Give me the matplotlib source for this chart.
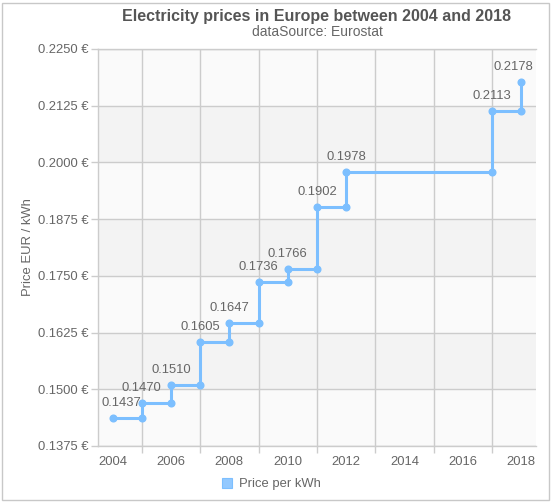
import numpy as np
import matplotlib
matplotlib.use("Agg")
import matplotlib.pyplot as plt
from matplotlib.patches import Patch, Rectangle
from matplotlib.ticker import FixedLocator, FuncFormatter

# data
years = [2004, 2005, 2006, 2007, 2008, 2009, 2010, 2011, 2012, 2017, 2018]
prices = [0.1437, 0.1470, 0.1510, 0.1605, 0.1647, 0.1736, 0.1766, 0.1902,
          0.1978, 0.2113, 0.2178]
series_name = "Price per kWh"
title = "Electricity prices in Europe between 2004 and 2018"
subtitle = "dataSource: Eurostat"
y_title = "Price EUR / kWh"

LINE = "#7cbfff"
TXT = "#666666"
GRID = "#cccccc"
FS = 9.4

plt.rcParams["font.family"] = ["Liberation Sans", "DejaVu Sans"]

W, H = 553, 503
fig = plt.figure(figsize=(W / 100, H / 100), dpi=100)
ax = fig.add_axes([98 / W, 1 - 446 / H, 438 / W, 397 / H])

ymin, ymax, ystep = 0.1375, 0.2250, 0.0125
yt = np.arange(ymin, ymax + ystep / 2, ystep)
ax.set_facecolor("#fafafa")
for i in range(len(yt) - 1):
    if i % 2 == 1:
        ax.axhspan(yt[i], yt[i + 1], color="#f3f3f3", lw=0, zorder=0)

ax.set_xlim(years[0] - 0.5, years[-1] + 0.5)
ax.set_ylim(ymin, ymax)

# step line with markers on every corner
ax.step(years, prices, where="post", color=LINE, lw=2.2, zorder=3,
        solid_joinstyle="miter")
ax.plot(years, prices, "o", color=LINE, ms=4.8, zorder=4)
ax.plot(years[1:], prices[:-1], "o", color=LINE, ms=4.8, zorder=4)

# value labels
lbls = []
for x, v in zip(years, prices):
    t = ax.annotate(f"{v:.4f}", (x, v), xytext=(0, 15),
                    textcoords="offset pixels", ha="center", va="center",
                    fontsize=FS, color=TXT, zorder=5)
    lbls.append(t)

# axes / ticks
ax.xaxis.set_major_locator(FixedLocator(range(2004, 2019, 2)))
ax.xaxis.set_minor_locator(FixedLocator(range(2005, 2019, 2)))
ax.yaxis.set_major_locator(FixedLocator(yt))
ax.yaxis.set_major_formatter(FuncFormatter(lambda v, p: f"{v:.4f} €"))
ax.tick_params(axis="x", which="major", length=0, pad=7, labelsize=FS,
               labelcolor=TXT)
ax.tick_params(axis="x", which="minor", length=5, width=1, color=GRID)
ax.tick_params(axis="y", length=5, width=1, color=GRID, pad=2,
               labelsize=FS, labelcolor=TXT)
ax.grid(True, axis="x", which="minor", color=GRID, lw=1, zorder=1)
ax.grid(True, axis="y", which="major", color=GRID, lw=1, zorder=1)
ax.set_axisbelow(True)
ax.spines["right"].set_visible(False)
for s in ["left", "bottom", "top"]:
    ax.spines[s].set_color(GRID)
    ax.spines[s].set_linewidth(1)

ax.set_ylabel(y_title, fontsize=FS, color=TXT)
ax.yaxis.set_label_coords(-64 / 438, 0.5)

fig.text(317 / W, 1 - 17 / H, title, ha="center", va="center",
         fontsize=11.5, fontweight="bold", color="#555555")
fig.text(317 / W, 1 - 32 / H, subtitle, ha="center", va="center",
         fontsize=10, color=TXT)

handle = Patch(facecolor="#93c9ff", edgecolor=LINE, lw=0.8)
fig.legend([handle], [series_name], loc="center",
           bbox_to_anchor=(271 / W, 1 - 484 / H), frameon=False,
           fontsize=FS, labelcolor=TXT, handlelength=0.8, handleheight=0.8,
           handletextpad=0.5)

fig.add_artist(Rectangle((2 / W, 3 / H), 547 / W, 497 / H,
                         transform=fig.transFigure, fill=False,
                         edgecolor="#c8c8c8", lw=1))

# keep value labels inside the plot area
fig.canvas.draw()
r = fig.canvas.get_renderer()
abox = ax.get_window_extent(r)
for t in lbls:
    bb = t.get_window_extent(r)
    dx = 0
    if bb.x0 < abox.x0 + 4:
        dx = abox.x0 + 4 - bb.x0
    elif bb.x1 > abox.x1 - 3:
        dx = abox.x1 - 3 - bb.x1
    if dx:
        t.set_position((dx, 15))

fig.savefig("out.png", dpi=100)
